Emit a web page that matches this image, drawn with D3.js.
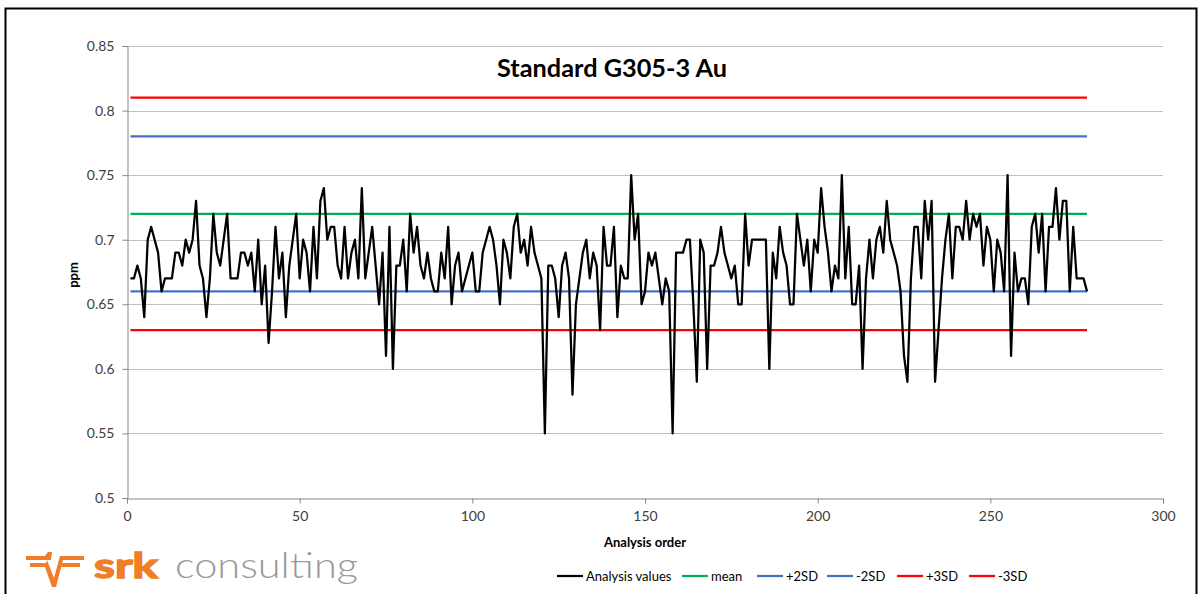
<!DOCTYPE html>
<html>
<head>
<meta charset="utf-8">
<script src="https://cdn.jsdelivr.net/npm/d3@7/dist/d3.min.js"></script>
<style>
    body { margin: 0; background: #fff; }
    svg { display: block; font-family: Lato, 'Open Sans', sans-serif; }
</style>
</head>
<body>
<svg id="chart" width="1203" height="594"></svg>
<script>
// Data

const analysisValues = [
    0.67, 0.67, 0.68, 0.67, 0.64, 0.70, 0.71, 0.70, 0.69, 0.66,
    0.67, 0.67, 0.67, 0.69, 0.69, 0.68, 0.70, 0.69, 0.70, 0.73,
    0.68, 0.67, 0.64, 0.67, 0.72, 0.69, 0.68, 0.70, 0.72, 0.67,
    0.67, 0.67, 0.69, 0.69, 0.68, 0.69, 0.66, 0.70, 0.65, 0.68,
    0.62, 0.66, 0.71, 0.67, 0.69, 0.64, 0.68, 0.70, 0.72, 0.67,
    0.70, 0.69, 0.66, 0.71, 0.67, 0.73, 0.74, 0.70, 0.71, 0.71,
    0.68, 0.67, 0.71, 0.67, 0.69, 0.70, 0.67, 0.74, 0.67, 0.69,
    0.71, 0.68, 0.65, 0.69, 0.61, 0.71, 0.60, 0.68, 0.68, 0.70,
    0.66, 0.72, 0.69, 0.71, 0.68, 0.67, 0.69, 0.67, 0.66, 0.66,
    0.69, 0.67, 0.71, 0.65, 0.68, 0.69, 0.66, 0.67, 0.68, 0.69,
    0.66, 0.66, 0.69, 0.70, 0.71, 0.70, 0.68, 0.65, 0.70, 0.69,
    0.67, 0.71, 0.72, 0.69, 0.70, 0.68, 0.71, 0.69, 0.68, 0.67,
    0.55, 0.68, 0.68, 0.67, 0.64, 0.68, 0.69, 0.67, 0.58, 0.65,
    0.67, 0.69, 0.70, 0.67, 0.69, 0.68, 0.63, 0.71, 0.68, 0.68,
    0.71, 0.64, 0.68, 0.67, 0.67, 0.75, 0.70, 0.72, 0.65, 0.66,
    0.69, 0.68, 0.69, 0.67, 0.65, 0.67, 0.66, 0.55, 0.69, 0.69,
    0.69, 0.70, 0.70, 0.65, 0.59, 0.70, 0.69, 0.60, 0.68, 0.68,
    0.69, 0.71, 0.69, 0.68, 0.67, 0.68, 0.65, 0.65, 0.72, 0.68,
    0.70, 0.70, 0.70, 0.70, 0.70, 0.60, 0.69, 0.67, 0.71, 0.69,
    0.68, 0.65, 0.65, 0.72, 0.70, 0.68, 0.70, 0.66, 0.70, 0.69,
    0.74, 0.71, 0.69, 0.66, 0.68, 0.67, 0.75, 0.67, 0.71, 0.65,
    0.65, 0.68, 0.60, 0.67, 0.70, 0.67, 0.70, 0.71, 0.69, 0.73,
    0.70, 0.69, 0.68, 0.66, 0.61, 0.59, 0.67, 0.71, 0.71, 0.67,
    0.73, 0.70, 0.73, 0.59, 0.63, 0.67, 0.70, 0.72, 0.67, 0.71,
    0.71, 0.70, 0.73, 0.70, 0.72, 0.71, 0.72, 0.68, 0.71, 0.70,
    0.66, 0.70, 0.69, 0.66, 0.75, 0.61, 0.69, 0.66, 0.67, 0.67,
    0.65, 0.71, 0.72, 0.69, 0.72, 0.66, 0.71, 0.71, 0.74, 0.70,
    0.73, 0.73, 0.66, 0.71, 0.67, 0.67, 0.67, 0.66,
];

const refLabels = ['mean', '+2SD', '-2SD', '+3SD', '-3SD'];
const refValues = [0.72, 0.78, 0.66, 0.81, 0.63];

const xTicks = [0, 50, 100, 150, 200, 250, 300];
const yTicks = [0.5, 0.55, 0.6, 0.65, 0.7, 0.75, 0.8, 0.85];

const seriesLabel = 'Analysis values';
const chartTitle = 'Standard G305-3 Au';

// Styles

const colors = {
    'Analysis values': '#000000',
    mean: '#00b050',
    '+2SD': '#4472c4',
    '-2SD': '#4472c4',
    '+3SD': '#ff0000',
    '-3SD': '#ff0000',
};

const margin = { left: 127, right: 1163, top: 46, bottom: 498 };

// Create structure

const svg = d3.select('#chart');

svg.append('rect')
    .attr('x', 5.5)
    .attr('y', 8.5)
    .attr('width', 1191)
    .attr('height', 600)
    .attr('fill', '#fff')
    .attr('stroke', '#000')
    .attr('stroke-width', 2);

const x = d3.scaleLinear().domain([0, 300]).range([margin.left, margin.right]);
const y = d3.scaleLinear().domain([0.5, 0.85]).range([margin.bottom, margin.top]);

// Gridlines

svg.append('g')
    .selectAll('line')
    .data(yTicks.slice(1))
    .enter()
    .append('line')
    .attr('x1', margin.left)
    .attr('x2', margin.right)
    .attr('y1', d => Math.round(y(d)) + 0.5)
    .attr('y2', d => Math.round(y(d)) + 0.5)
    .attr('stroke', '#c0c0c0')
    .attr('stroke-width', 1);

// Axes

const yAxis = svg.append('g')
    .attr('transform', `translate(${margin.left + 0.5},0)`)
    .call(
        d3.axisLeft(y)
            .tickValues(yTicks)
            .tickSize(5)
            .tickPadding(8)
            .tickFormat(d => String(+d.toFixed(2))),
    );

const xAxis = svg.append('g')
    .attr('transform', `translate(0,${margin.bottom + 0.5})`)
    .call(
        d3.axisBottom(x)
            .tickValues(xTicks)
            .tickSize(5)
            .tickPadding(8)
            .tickFormat(d3.format('d')),
    );

[xAxis, yAxis].forEach(axis => {
    axis.select('.domain').attr('stroke', '#868686');
    axis.selectAll('.tick line').attr('stroke', '#868686');
    axis.selectAll('.tick text')
        .attr('fill', '#404040')
        .style('font-size', '14px')
        .style('font-family', 'Lato, sans-serif');
});

// Reference lines

const firstX = 1;
const lastX = analysisValues.length;

svg.append('g')
    .selectAll('line')
    .data(refValues)
    .enter()
    .append('line')
    .attr('x1', x(firstX))
    .attr('x2', x(lastX))
    .attr('y1', d => y(d))
    .attr('y2', d => y(d))
    .attr('stroke', (d, i) => colors[refLabels[i]])
    .attr('stroke-width', 2.25);

// Series

const line = d3.line()
    .x((d, i) => x(i + 1))
    .y(d => y(d));

svg.append('path')
    .datum(analysisValues)
    .attr('fill', 'none')
    .attr('stroke', colors[seriesLabel])
    .attr('stroke-width', 2.25)
    .attr('stroke-linejoin', 'round')
    .attr('d', line);

// Titles

svg.append('text')
    .attr('x', 612)
    .attr('y', 77)
    .attr('text-anchor', 'middle')
    .attr('textLength', 230)
    .attr('lengthAdjust', 'spacingAndGlyphs')
    .style('font-size', '25px')
    .style('font-weight', 'bold')
    .attr('fill', '#000')
    .text(chartTitle);

svg.append('text')
    .attr('x', 645)
    .attr('y', 547)
    .attr('text-anchor', 'middle')
    .style('font-size', '13px')
    .style('font-weight', 'bold')
    .attr('fill', '#000')
    .text('Analysis order');

svg.append('text')
    .attr('transform', 'translate(78,275) rotate(-90)')
    .attr('text-anchor', 'middle')
    .style('font-size', '13px')
    .style('font-weight', 'bold')
    .attr('fill', '#000')
    .text('ppm');

// Legend

const legendItems = [seriesLabel].concat(refLabels);
const legendX = [557, 682, 757, 827, 897, 969];

const legend = svg.append('g').attr('transform', 'translate(0,576)');

legend.selectAll('line')
    .data(legendItems)
    .enter()
    .append('line')
    .attr('x1', (d, i) => legendX[i])
    .attr('x2', (d, i) => legendX[i] + 26)
    .attr('stroke', d => colors[d])
    .attr('stroke-width', 2.25);

legend.selectAll('text')
    .data(legendItems)
    .enter()
    .append('text')
    .attr('x', (d, i) => legendX[i] + 29)
    .attr('y', 4.5)
    .style('font-size', '13px')
    .attr('fill', '#000')
    .text(d => d);

// Logo

const logo = svg.append('g').attr('fill', '#f07d28');

logo.append('path')
    .attr('d', 'M26 556 L45 556 L48 552 L52 552 L51 560 L26 560 Z M30 563 L48 563 L47 567 L30 567 Z');
logo.append('path')
    .attr('d', 'M47 560 L54 578 L60 556 L84 556 L84 560 L63 560 L56 587 L52 587 L45 567 Z');
logo.append('path')
    .attr('d', 'M62 563 L80 563 L80 567 L61 567 Z');

svg.append('text')
    .attr('x', 94)
    .attr('y', 578)
    .attr('textLength', 64)
    .attr('lengthAdjust', 'spacingAndGlyphs')
    .style('font-size', '35px')
    .style('font-weight', 'bold')
    .style('font-family', 'Lato, sans-serif')
    .attr('fill', '#f07d28')
    .attr('stroke', '#f07d28')
    .attr('stroke-width', 1.5)
    .text('srk');

svg.append('text')
    .attr('x', 175)
    .attr('y', 578)
    .attr('textLength', 183)
    .attr('lengthAdjust', 'spacingAndGlyphs')
    .style('font-size', '36px')
    .style('font-weight', '300')
    .style('font-family', 'Lato, sans-serif')
    .attr('fill', '#9a9a9a')
    .text('consulting');
</script>
</body>
</html>
